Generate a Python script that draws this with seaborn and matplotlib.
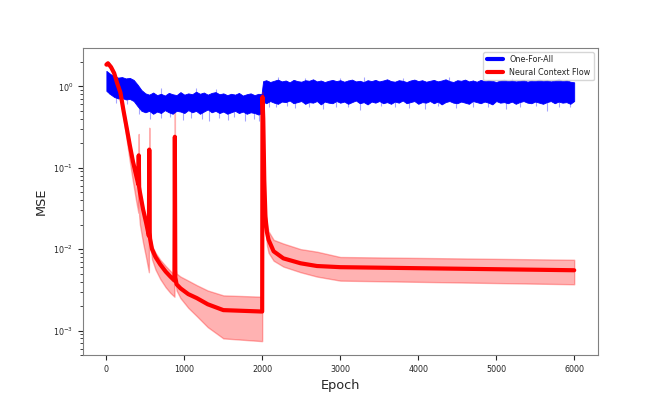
import matplotlib
matplotlib.use("Agg")
import matplotlib.pyplot as plt
import numpy as np
import seaborn as sns
from matplotlib.lines import Line2D

# One-For-All: dense noisy curve, kept as a core envelope sampled every 50 epochs
blue_epochs = list(range(0, 1951, 50)) + [1990, 2010] + list(range(2050, 6001, 50))
blue_high = [1.55, 1.42, 1.33, 1.28, 1.30, 1.25, 1.27, 1.20, 1.05, 0.90,
             0.82, 0.79, 0.84, 0.78, 0.81, 0.77, 0.83, 0.80, 0.78, 0.85,
             0.79, 0.82, 0.80, 0.86, 0.81, 0.84, 0.79, 0.83, 0.85, 0.80,
             0.82, 0.78, 0.81, 0.79, 0.83, 0.77, 0.80, 0.82, 0.78, 0.81, 0.80,
             1.16, 1.19, 1.13, 1.17, 1.21, 1.15, 1.18, 1.12, 1.20, 1.16,
             1.14, 1.19, 1.17, 1.22, 1.15, 1.18, 1.13, 1.17, 1.20, 1.16,
             1.19, 1.14, 1.18, 1.21, 1.15, 1.17, 1.13, 1.19, 1.16, 1.20,
             1.15, 1.18, 1.22, 1.16, 1.14, 1.19, 1.17, 1.13, 1.18, 1.21,
             1.16, 1.19, 1.14, 1.17, 1.20, 1.15, 1.18, 1.22, 1.16, 1.13,
             1.19, 1.17, 1.21, 1.15, 1.18, 1.14, 1.20, 1.16, 1.19, 1.17,
             1.13, 1.18, 1.21, 1.16, 1.19, 1.15, 1.17, 1.20, 1.14, 1.18,
             1.16, 1.21, 1.17, 1.19, 1.15, 1.18, 1.22, 1.16, 1.19, 1.14, 1.12]
blue_low = [0.88, 0.80, 0.74, 0.71, 0.72, 0.69, 0.70, 0.66, 0.57, 0.50,
            0.48, 0.50, 0.46, 0.49, 0.47, 0.51, 0.48, 0.46, 0.50, 0.49,
            0.47, 0.51, 0.48, 0.50, 0.46, 0.49, 0.52, 0.48, 0.50, 0.47,
            0.49, 0.46, 0.48, 0.50, 0.47, 0.49, 0.46, 0.48, 0.47, 0.45, 0.47,
            0.65, 0.62, 0.66, 0.63, 0.61, 0.65, 0.64, 0.67, 0.62, 0.64,
            0.66, 0.61, 0.64, 0.63, 0.66, 0.60, 0.65, 0.63, 0.62, 0.66,
            0.63, 0.65, 0.61, 0.64, 0.67, 0.62, 0.64, 0.60, 0.65, 0.63,
            0.66, 0.62, 0.64, 0.61, 0.65, 0.63, 0.67, 0.62, 0.64, 0.66,
            0.61, 0.64, 0.63, 0.66, 0.62, 0.65, 0.60, 0.64, 0.66, 0.63,
            0.62, 0.65, 0.63, 0.61, 0.66, 0.64, 0.62, 0.65, 0.63, 0.60,
            0.66, 0.63, 0.64, 0.62, 0.65, 0.61, 0.64, 0.66, 0.63, 0.62,
            0.65, 0.63, 0.61, 0.64, 0.66, 0.62, 0.65, 0.63, 0.64, 0.61, 0.66]

# single-epoch outliers of One-For-All (faint spikes)
dip_epochs = [30, 120, 260, 420, 560, 700, 820, 980, 1080, 1230, 1310, 1450, 1560, 1640, 1780,
              1890, 1960, 2080, 2180, 2320, 2420, 2600, 2780, 2950, 3100, 3250, 3520, 3700,
              3880, 4090, 4250, 4480, 4700, 4900, 5120, 5300, 5510, 5650, 5800, 5950]
dip_values = [0.80, 0.62, 0.60, 0.46, 0.40, 0.41, 0.42, 0.39, 0.41, 0.40, 0.38, 0.41, 0.39,
              0.42, 0.38, 0.40, 0.37, 0.56, 0.55, 0.57, 0.54, 0.56, 0.52, 0.55, 0.56, 0.51,
              0.57, 0.55, 0.54, 0.53, 0.57, 0.54, 0.55, 0.56, 0.53, 0.55, 0.57, 0.50, 0.55, 0.56]
peak_epochs = [700, 1150, 1400, 2200, 2550, 3000, 3300, 3800, 4400, 5200]
peak_values = [0.95, 0.96, 0.92, 1.30, 1.28, 1.26, 1.32, 1.27, 1.29, 1.27]

# Neural Context Flow: mean curve with its band
red_epochs = [0, 20, 60, 100, 140, 180, 220, 260, 300, 340, 380, 410, 415, 420, 430, 470, 510,
              545, 550, 556, 560, 585, 630, 690, 760, 820, 873, 878, 884, 900, 950, 1050, 1160,
              1300, 1500, 1998, 2002, 2012, 2025, 2040, 2060, 2080, 2145, 2270, 2490, 2700,
              3000, 6000]
red_mean = [1.85, 1.92, 1.72, 1.45, 1.08, 0.84, 0.50, 0.31, 0.19, 0.12, 0.082, 0.062, 0.142,
            0.058, 0.050, 0.031, 0.021, 0.0145, 0.167, 0.016, 0.0135, 0.0100, 0.0080, 0.0065,
            0.0053, 0.0046, 0.0041, 0.24, 0.0045, 0.0037, 0.0033, 0.0028, 0.0025, 0.0021,
            0.00178, 0.00171, 0.74, 0.40, 0.07, 0.025, 0.016, 0.0130, 0.0094, 0.0077, 0.0067,
            0.0062, 0.0060, 0.0055]
red_low = [1.78, 1.82, 1.60, 1.32, 0.95, 0.70, 0.40, 0.22, 0.12, 0.068, 0.040, 0.028, 0.06,
           0.026, 0.020, 0.012, 0.0078, 0.0052, 0.10, 0.014, 0.0120, 0.0075, 0.0056, 0.0043,
           0.0034, 0.0029, 0.0026, 0.15, 0.0040, 0.0031, 0.0025, 0.0019, 0.0015, 0.0011,
           0.00080, 0.00074, 0.6, 0.3, 0.05, 0.018, 0.011, 0.0090, 0.0072, 0.0061, 0.0052,
           0.0046, 0.0041, 0.0037]
red_high = [1.92, 2.0, 1.80, 1.52, 1.15, 0.90, 0.54, 0.33, 0.20, 0.13, 0.088, 0.066, 0.26,
            0.062, 0.053, 0.033, 0.022, 0.0155, 0.31, 0.018, 0.0145, 0.0110, 0.0090, 0.0074,
            0.0062, 0.0054, 0.0048, 0.47, 0.0060, 0.0050, 0.0046, 0.0041, 0.0036, 0.0031,
            0.0027, 0.0026, 0.85, 0.45, 0.09, 0.030, 0.020, 0.0165, 0.0130, 0.0117, 0.0100,
            0.0093, 0.0080, 0.0074]

sns.set_style("ticks", {"axes.edgecolor": "0.5"})
plt.rcParams["xtick.major.size"] = 3.5
plt.rcParams["ytick.major.size"] = 3.5
plt.rcParams["ytick.minor.size"] = 2

fig, ax = plt.subplots(figsize=(6.64, 3.99), dpi=100)

# faint outlier spikes, tucked behind the solid core
ax.vlines(dip_epochs, dip_values, np.interp(dip_epochs, blue_epochs, blue_high),
          color="blue", alpha=0.35, lw=0.8)
ax.vlines(peak_epochs, np.interp(peak_epochs, blue_epochs, blue_low), peak_values,
          color="blue", alpha=0.35, lw=0.8)
ax.fill_between(blue_epochs, blue_low, blue_high, color="blue", lw=0.6)

ax.fill_between(red_epochs, red_low, red_high, color="red", alpha=0.3)
sns.lineplot(x=red_epochs, y=red_mean, color="red", lw=3, estimator=None, sort=False, ax=ax)

ax.set_yscale("log")
ax.set_xlabel("Epoch", fontsize=9.3)
ax.set_ylabel("MSE", fontsize=9.3)
ax.tick_params(labelsize=5.8)

handles = [Line2D([], [], color="blue", lw=3, label="One-For-All"),
           Line2D([], [], color="red", lw=3, label="Neural Context Flow")]
ax.legend(handles=handles, loc="upper right", fontsize=5.8)

plt.savefig("out.png", dpi=100)
plt.close()
